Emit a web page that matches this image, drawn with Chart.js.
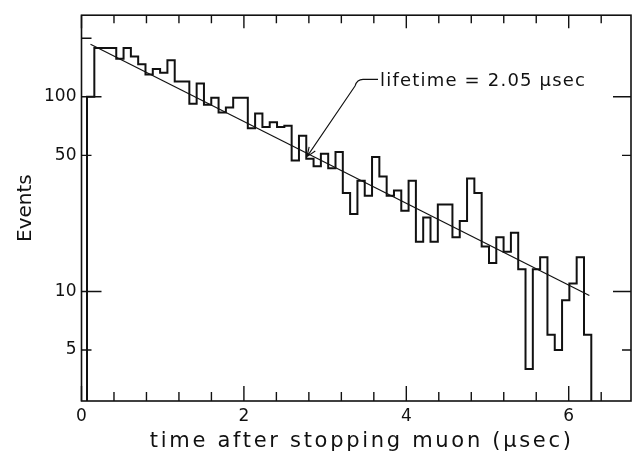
<!DOCTYPE html>
<html><head><meta charset="utf-8">
<style>html,body{margin:0;padding:0;background:#fff;}#wrap{width:632px;height:456px;}</style>
<script src="https://cdn.jsdelivr.net/npm/chart.js@4.4.1/dist/chart.umd.min.js"></script>
</head><body><div id="wrap"><canvas id="c" width="632" height="456"></canvas></div>
<script>
// ---- data ----
const binStart = 0.068;   // left edge of first bin (μs)
const binWidth = 0.09;    // bin width (μs)
const events = [100,178,178,178,157,178,161,147,130,139,133,154,120,120,92,117,91,99,83,88,
  99,99,69,82,70,74,70,71,47,63,48,44,51,43,52,32,25,37,31,49,39,31,33,26,37,18,24,18,28,28,
  19,23,38,32,17,14,19,16,20,13,4,13,15,6,5,9,11,15,6];
const fitTimes = [0.111, 6.254];
const fitEvents = [186, 9.54];
const xTickLabels = [0, 2, 4, 6];
const xMinorTicks = [0.4,0.8,1.2,1.6,2.4,2.8,3.2,3.6,4.4,4.8,5.2,5.6,6.4];
const yTickLabels = [5, 10, 50, 100];
const yMajorTicks = [10, 100];
const yMinorTicksLeft = [5, 50, 200];
const yMinorTicksRight = [5, 50];
const annotationText = 'lifetime = 2.05 \u03bcsec';
const arrowTip = {x: 2.777, y: 49.3};
const labelAnchor = {x: 3.676, y: 120};

const histPoints = [{x: binStart, y: 1}];
events.forEach((v, i) => histPoints.push({x: binStart + i * binWidth, y: v}));
histPoints.push({x: binStart + events.length * binWidth, y: 1});
const fitPoints = fitTimes.map((t, i) => ({x: t, y: fitEvents[i]}));

const INK = '#111';
const FONT = 'DejaVu Sans';

const framePlugin = {
  id: 'frame',
  beforeDraw(chart) {
    const s = chart.scales.x;
    if (!s._wrappedTitle) {
      const orig = s.drawTitle;
      s.drawTitle = function () {
        const ctx = this.ctx;
        ctx.save();
        ctx.letterSpacing = '2.7px';
        ctx.translate(5.5, 0);
        orig.call(this);
        ctx.restore();
      };
      s._wrappedTitle = true;
    }
  },
  afterDraw(chart) {
    const {ctx, chartArea: a, scales: {x, y}} = chart;
    ctx.save();
    ctx.strokeStyle = INK;
    ctx.lineWidth = 1.6;
    ctx.strokeRect(a.left, a.top, a.right - a.left, a.bottom - a.top);
    ctx.lineWidth = 1.4;
    ctx.beginPath();
    const vx = (vals, len, edge, dir) => vals.forEach(v => {
      const px = x.getPixelForValue(v);
      ctx.moveTo(px, edge); ctx.lineTo(px, edge + dir * len);
    });
    const hy = (vals, len, edge, dir) => vals.forEach(v => {
      const py = y.getPixelForValue(v);
      ctx.moveTo(edge, py); ctx.lineTo(edge + dir * len, py);
    });
    vx(xTickLabels, 15, a.bottom, -1);
    vx(xMinorTicks, 9, a.bottom, -1);
    vx(xTickLabels, 13, a.top, 1);
    vx(xMinorTicks, 8, a.top, 1);
    hy(yMajorTicks, 20, a.left, 1);
    hy(yMinorTicksLeft, 10, a.left, 1);
    hy(yMajorTicks, 18, a.right, -1);
    hy(yMinorTicksRight, 9, a.right, -1);
    ctx.stroke();

    // annotation
    const tx = x.getPixelForValue(arrowTip.x), ty = y.getPixelForValue(arrowTip.y);
    const lx = x.getPixelForValue(labelAnchor.x), ly = y.getPixelForValue(labelAnchor.y);
    ctx.fillStyle = INK;
    ctx.font = '18px "' + FONT + '"';
    ctx.letterSpacing = '1.2px';
    ctx.textAlign = 'left';
    ctx.textBaseline = 'middle';
    ctx.fillText(annotationText, lx, ly);
    ctx.letterSpacing = '0px';
    const dY = ly - 2;
    const cx = lx - 25, cy = dY + 6.6;
    ctx.lineWidth = 1.1;
    ctx.beginPath();
    ctx.moveTo(lx - 2, dY);
    ctx.lineTo(lx - 17, dY);
    ctx.quadraticCurveTo(lx - 23, dY, cx, cy);
    ctx.lineTo(tx, ty);
    const ang = Math.atan2(ty - cy, tx - cx);
    const L = 10, sp = 0.38;
    ctx.moveTo(tx, ty);
    ctx.lineTo(tx - L * Math.cos(ang - sp), ty - L * Math.sin(ang - sp));
    ctx.moveTo(tx, ty);
    ctx.lineTo(tx - L * Math.cos(ang + sp), ty - L * Math.sin(ang + sp));
    ctx.stroke();
    ctx.restore();
  }
};

new Chart(document.getElementById('c'), {
  type: 'line',
  data: {
    datasets: [
      {data: histPoints, stepped: 'before', borderColor: INK, borderWidth: 2, pointRadius: 0,
       fill: false, tension: 0, borderJoinStyle: 'miter'},
      {data: fitPoints, borderColor: INK, borderWidth: 1.2, pointRadius: 0, fill: false, tension: 0}
    ]
  },
  options: {
    responsive: false,
    animation: false,
    events: [],
    layout: {padding: {top: 10, right: 1, left: 0, bottom: 0}},
    plugins: {legend: {display: false}, tooltip: {enabled: false}},
    scales: {
      x: {
        type: 'linear', min: 0, max: 6.767,
        afterBuildTicks: s => { s.ticks = xTickLabels.map(v => ({value: v})); },
        afterFit: s => { s.height = 55; },
        grid: {display: false, drawTicks: false},
        border: {display: false},
        ticks: {font: {family: FONT, size: 17}, color: INK, padding: 5, maxRotation: 0, autoSkip: false,
                callback: v => String(v)},
        title: {display: true, text: 'time after stopping muon (\u03bcsec)', color: INK,
                font: {family: FONT, size: 21}, padding: {top: 0, bottom: 2}}
      },
      y: {
        type: 'logarithmic', min: 2.737, max: 262.5,
        afterBuildTicks: s => { s.ticks = yTickLabels.map(v => ({value: v})); },
        afterFit: s => { s.width = 81.5; },
        grid: {display: false, drawTicks: false},
        border: {display: false},
        ticks: {font: {family: FONT, size: 17}, color: INK, padding: 5, autoSkip: false,
                callback: v => String(v)},
        title: {display: true, text: 'Events', color: INK,
                font: {family: FONT, size: 20}, padding: {top: 14, bottom: 0}}
      }
    }
  },
  plugins: [framePlugin]
});
</script></body></html>
